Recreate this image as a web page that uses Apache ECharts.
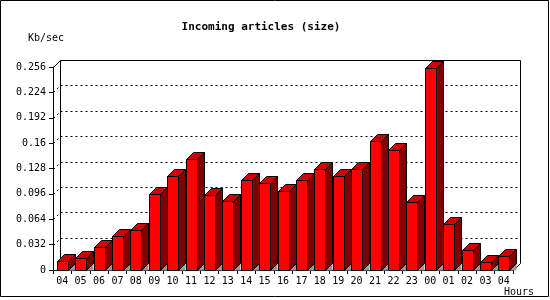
<!DOCTYPE html>
<html><head><meta charset="utf-8">
<script src="https://cdn.jsdelivr.net/npm/echarts@6/dist/echarts.min.js"></script>
<style>html,body{margin:0;padding:0;background:#fff}#c{width:550px;height:300px}</style>
</head><body><div id="c"></div>
<script>
const hours = ['04','05','06','07','08','09','10','11','12','13','14','15','16','17','18','19','20','21','22','23','00','01','02','03','04'];
const sizes = [0.011,0.0147,0.0285,0.0424,0.050,0.0953,0.119,0.1406,0.094,0.0865,0.113,0.110,0.0995,0.113,0.128,0.118,0.1268,0.163,0.1507,0.0852,0.2552,0.058,0.0248,0.0097,0.0172];
const yLabels = ['0','0.032','0.064','0.096','0.128','0.16','0.192','0.224','0.256'];
const yTickValues = [0,0.032,0.064,0.096,0.128,0.16,0.192,0.224,0.256];
const titleText = 'Incoming articles (size)';
const yUnit = 'Kb/sec';
const xUnit = 'Hours';

const D = 7;
const MONO = '"DejaVu Sans Mono", monospace';
const h = v => Math.round(v) + 0.5;

const chart = echarts.init(document.getElementById('c'), null, {renderer: 'canvas'});

function frameItem(params, api) {
  const cs = params.coordSys;
  const xl = h(cs.x), xr = h(cs.x + cs.width);
  const yt = h(cs.y), yb = h(cs.y + cs.height);
  const ch = [];
  // back box (left, top, right)
  ch.push({type: 'polyline', shape: {points: [[xl + D, yb - D], [xl + D, yt - D], [xr + D, yt - D], [xr + D, yb - D]]},
    style: {stroke: '#000', lineWidth: 1, fill: null}});
  // corner diagonals
  ch.push({type: 'line', shape: {x1: xl, y1: yt, x2: xl + D, y2: yt - D}, style: {stroke: '#000', lineWidth: 1}});
  ch.push({type: 'line', shape: {x1: xr, y1: yb, x2: xr + D, y2: yb - D}, style: {stroke: '#000', lineWidth: 1}});
  // grid lines on back plane + tick connectors
  yTickValues.forEach((t, i) => {
    if (i === 0 || i === yTickValues.length - 1) return;
    const y = h(api.coord([0, t])[1]);
    ch.push({type: 'line', shape: {x1: xl + D, y1: y - D, x2: xr + D, y2: y - D},
      style: {stroke: '#000', lineWidth: 1, lineDash: [2, 3]}});
    ch.push({type: 'line', shape: {x1: xl, y1: y, x2: xl + D, y2: y - D},
      style: {stroke: '#000', lineWidth: 1, lineDash: [2, 3]}});
  });
  return {type: 'group', children: ch};
}

function barItem(params, api) {
  const i = api.value(0), v = api.value(1);
  const base = api.coord([i, 0]);
  const top = api.coord([i, v]);
  const bw = Math.round(api.size([1, 0])[0] * 0.6);
  const x0 = h(base[0] - bw / 2), x1 = x0 + bw;
  const by = h(base[1]), ty = h(top[1]);
  return {type: 'group', children: [
    {type: 'polygon', shape: {points: [[x1, by], [x1 + D, by - D], [x1 + D, by]]}, style: {fill: '#999999', stroke: null}},
    {type: 'polygon', shape: {points: [[x1, ty], [x1 + D, ty - D], [x1 + D, by - D], [x1, by]]}, style: {fill: '#800000', stroke: '#000', lineWidth: 1}},
    {type: 'polygon', shape: {points: [[x0, ty], [x0 + D, ty - D], [x1 + D, ty - D], [x1, ty]]}, style: {fill: '#cc0000', stroke: '#000', lineWidth: 1}},
    {type: 'rect', shape: {x: x0, y: ty, width: bw, height: by - ty}, style: {fill: '#ff0000', stroke: '#000', lineWidth: 1}}
  ]};
}

chart.setOption({
  animation: false,
  backgroundColor: '#fff',
  grid: {left: 53, right: 37, top: 67, bottom: 30},
  xAxis: {
    type: 'category', data: hours, boundaryGap: true,
    axisLine: {show: true, lineStyle: {color: '#000', width: 1}},
    axisTick: {show: true, length: 4, lineStyle: {color: '#000'}},
    axisLabel: {interval: 0, color: '#000', fontFamily: MONO, fontSize: 10, margin: 6},
    splitLine: {show: false}
  },
  yAxis: {
    type: 'value', min: 0, max: 0.256, interval: 0.032,
    axisLine: {show: true, lineStyle: {color: '#000', width: 1}},
    axisTick: {show: true, length: 4, lineStyle: {color: '#000'}},
    axisLabel: {color: '#000', fontFamily: MONO, fontSize: 10, margin: 7,
      formatter: (val, idx) => yLabels[idx]},
    splitLine: {show: false}
  },
  graphic: [
    {type: 'rect', shape: {x: 0.5, y: 0.5, width: 548, height: 296}, style: {fill: null, stroke: '#000', lineWidth: 1}, z: 100},
    {type: 'text', x: 261, y: 27, style: {text: titleText, font: 'bold 11px ' + MONO, fill: '#000', textAlign: 'center', textVerticalAlign: 'middle'}},
    {type: 'text', x: 28, y: 38, style: {text: yUnit, font: '10px ' + MONO, fill: '#000', textAlign: 'left', textVerticalAlign: 'middle'}},
    {type: 'text', x: 504, y: 292, style: {text: xUnit, font: '10px ' + MONO, fill: '#000', textAlign: 'left', textVerticalAlign: 'middle'}}
  ],
  series: [
    {type: 'custom', renderItem: frameItem, data: [[0, 0]], z: 1, silent: true, clip: false},
    {type: 'custom', renderItem: barItem, data: sizes.map((v, i) => [i, v]), z: 2, clip: false}
  ]
});
</script></body></html>
